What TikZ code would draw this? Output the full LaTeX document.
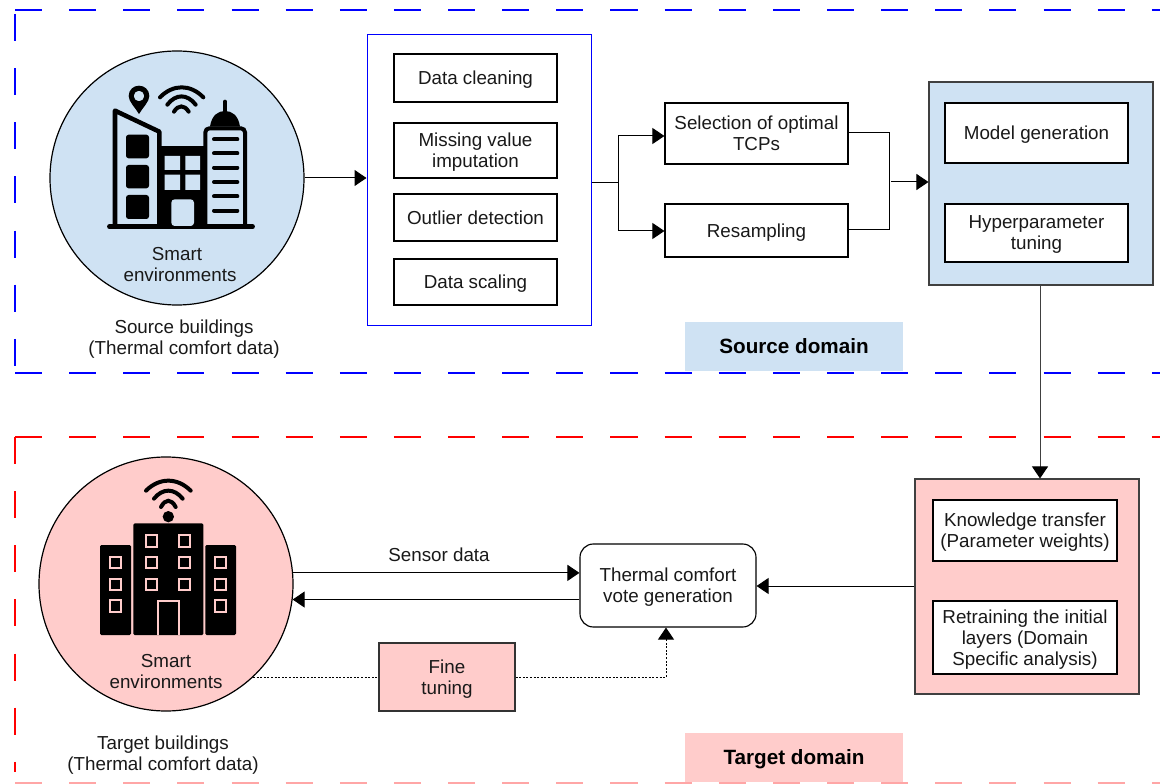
\documentclass[tikz,border=0pt]{standalone}
\usepackage{fontspec}
\setmainfont{Liberation Sans}
\usetikzlibrary{arrows.meta,positioning,calc}
\definecolor{lblue}{HTML}{CFE2F3}
\definecolor{lpink}{HTML}{FFCCCB}
\tikzset{
 px/.style={x=0.75pt,y=-0.75pt},
 txt/.style={font=\fontsize{14.1}{15.8}\selectfont,align=center,text=black!90,inner sep=0pt,text depth=0pt},
 boxA/.style={draw=black,line width=0.85pt,fill=white,txt,anchor=center},
 panel/.style={draw=black!75,line width=0.8pt,anchor=center},
 conn/.style={draw=black,line width=0.75pt},
 arr/.style={conn,-{Triangle[length=9pt,width=12pt,color=black,fill=black]}},
 dom/.style={font=\fontsize{15.5}{18}\selectfont\bfseries,inner sep=0pt,anchor=center},
 bluedash/.style={draw=blue,line width=0.9pt,dash pattern=on 20.3pt off 20.3pt},
 reddash/.style={draw=red,line width=0.9pt,dash pattern=on 20.3pt off 20.3pt},
 dots/.style={dash pattern=on 1.5pt off 1.2pt},
 circ/.style={circle,draw=black,line width=0.9pt,inner sep=0pt},
 icon/.style={x=0.25pt,y=-0.25pt},
}
\newcommand{\bx}[6]{% name, x1,y1,x2,y2, style+text in #6
  \node[#6] (#1) at ({(#2+#4)/2},{(#3+#5)/2}) [minimum width={(#4-#2)*0.75pt},minimum height={(#5-#3)*0.75pt}]}
\begin{document}
\begin{tikzpicture}[px]
\useasboundingbox (0,0) rectangle (1160,784);
% domain frames
\draw[bluedash] (15,10) -- (1160,10);
\draw[bluedash] (15,14) -- (15,368);
\draw[bluedash] (15,373) -- (1160,373);
\draw[reddash] (15,437) -- (1160,437);
\draw[reddash] (15,437) -- (15,772);
\draw[reddash,draw=red!35] (15,783) -- (1160,783);
% circles
\node[circ,fill=lblue,minimum size=190.5pt] (srcC) at (177,178) {};
\node[circ,fill=lpink,minimum size=190.5pt] (tgtC) at (166,584) {};
% source pipeline
\bx{prep}{367}{35}{591}{325}{draw=blue,line width=0.75pt,fill=white} {};
\bx{clean}{394}{54}{557}{102}{boxA} {Data cleaning};
\bx{miss}{394}{123}{557}{178}{boxA} {Missing value\\imputation};
\bx{outl}{394}{194}{557}{241}{boxA} {Outlier detection};
\bx{scal}{394}{259}{557}{305}{boxA} {Data scaling};
\bx{sel}{665}{103}{848}{164}{boxA} {Selection of optimal\\TCPs};
\bx{res}{665}{204}{848}{257}{boxA} {Resampling};
\bx{mpanel}{929}{82}{1153}{285}{panel,fill=lblue} {};
\bx{mgen}{945}{103}{1128}{163}{boxA} {Model generation};
\bx{hyp}{945}{204}{1128}{262}{boxA} {Hyperparameter\\tuning};
\bx{sdom}{685}{322}{903}{371}{dom,fill=lblue,text depth=0pt} {Source domain};
% target side
\bx{tpanel}{915}{479}{1139}{694}{panel,fill=lpink} {};
\bx{know}{933}{500}{1117}{561}{boxA} {Knowledge transfer\\(Parameter weights)};
\bx{retr}{933}{601}{1117}{674}{boxA} {Retraining the initial\\layers (Domain\\Specific analysis)};
\bx{therm}{580}{544}{756}{627}{boxA,rounded corners=10pt} {Thermal comfort\\vote generation};
\bx{fine}{379}{643}{515}{711}{boxA,fill=lpink,draw=black!80} {Fine\\tuning};
\bx{tdom}{685}{733}{903}{782}{dom,fill=lpink,text depth=0pt} {Target domain};
% labels
\node[txt] (lab1) at (180,264) {Smart\hspace*{4.5pt}\\environments};
\node[txt] (lab2) at (184,337) {Source buildings\\(Thermal comfort data)};
\node[txt] (lab3) at (166,671) {Smart\\environments};
\node[txt] (lab4) at (163,753) {Target buildings\\(Thermal comfort data)};
\node[txt] (lab5) at (439,555) {Sensor data};
% connectors
\draw[arr] (srcC.east) -- (srcC.east -| prep.west);
\coordinate (j1) at (618,183);
\draw[conn] (prep.east |- j1) -- (j1);
\draw[arr] (j1) |- (sel.west |- 0,136);
\draw[arr] (j1) |- (res.west |- 0,231);
\coordinate (j2) at (889,182);
\draw[conn] (sel.east |- 0,133) -| (j2);
\draw[conn] (res.east |- 0,230) -| (j2);
\draw[arr] (891,182) -- (mpanel.west |- j2);
\draw[arr,draw=black!75] (mpanel.south -| 1040,0) -- (tpanel.north -| 1040,0);
\draw[arr] (tpanel.west |- 0,586) -- (therm.east |- 0,586);
\draw[arr] (tgtC.5.9) -- (therm.west |- tgtC.5.9);
\draw[arr] (therm.west |- tgtC.-7.7) -- (tgtC.-7.7);
\draw[conn,dots] (tgtC.-47) -- (fine.west |- tgtC.-47);
\coordinate (j3) at (666,677);
\draw[conn,dots] (fine.east |- j3) -- (j3);
\draw[arr,dots] (j3) -- (therm.south -| j3);
% source icon
\begin{scope}[shift={(30,50)},icon]
 \draw[line width=3.4pt,line cap=round] (238,530) -- (668,530);
 \draw[line width=3.4pt,line join=round] (255,528) -- (255,182) -- (388,245) -- (388,528);
 \foreach \a/\b in {254/325,345/415,435/507}
   \fill[rounded corners=2pt] (288,\a) rectangle (357,\b);
 \fill (388,288) rectangle (530,528);
 \fill[lblue] (404,318) rectangle (450,360) (466,318) rectangle (510,360) (404,374) rectangle (450,420) (466,374) rectangle (510,420);
 \fill[lblue,rounded corners=2.5pt] (424,528) -- (424,448) -- (492,448) -- (492,528) -- cycle;
 \draw[line width=3pt,rounded corners=3pt] (526,528) -- (526,235) -- (645,235) -- (645,528);
 \foreach \a in {268,310,353,396,439,482}
   \draw[line width=3pt,line cap=round] (552,\a) -- (622,\a);
 \fill (540,230) .. controls (545,195) and (565,183) .. (585,183) .. controls (605,183) and (625,195) .. (630,230) -- cycle;
 \draw[line width=3pt,line cap=round] (585,155) -- (585,190);
 \fill[even odd rule] (327,192) .. controls (315,172) and (296,155) .. (296,138) .. controls (296,120) and (310,107) .. (327,107) .. controls (344,107) and (358,120) .. (358,138) .. controls (358,155) and (339,172) .. (327,192) -- cycle (327,138) circle[radius=16];
 \foreach \xa/\xb/\ya/\yb in {390/520/142/102,412/497/164/131,432/476/185/164}
   \draw[line width=3pt,line cap=round] (\xa,\ya) .. controls ({\xa+(\xb-\xa)*.3},\yb) and ({\xb-(\xb-\xa)*.3},\yb) .. (\xb,\ya);
\end{scope}
% target icon
\begin{scope}[shift={(20,460)},icon]
 \fill[rounded corners=1pt] (340,190) rectangle (550,525) (240,255) rectangle (333,525) (556,255) rectangle (648,525);
 \foreach \x/\y in {395/243,493/243,395/308,493/308,395/373,493/373,287/308,287/373,287/438,602/308,602/373,602/438}
   \draw[draw=lpink,line width=1.6pt] ({\x-17},{\y-17}) rectangle ({\x+17},{\y+17});
 \draw[draw=lpink,line width=1.6pt] (413,525) -- (413,424) -- (478,424) -- (478,525);
 \fill (445,170) circle[radius=17];
 \foreach \xa/\xb/\ya/\yb in {378/512/92/52,402/488/116/84,423/467/141/116}
   \draw[line width=3pt,line cap=round] (\xa,\ya) .. controls ({\xa+(\xb-\xa)*.3},\yb) and ({\xb-(\xb-\xa)*.3},\yb) .. (\xb,\ya);
\end{scope}
\end{tikzpicture}
\end{document}
